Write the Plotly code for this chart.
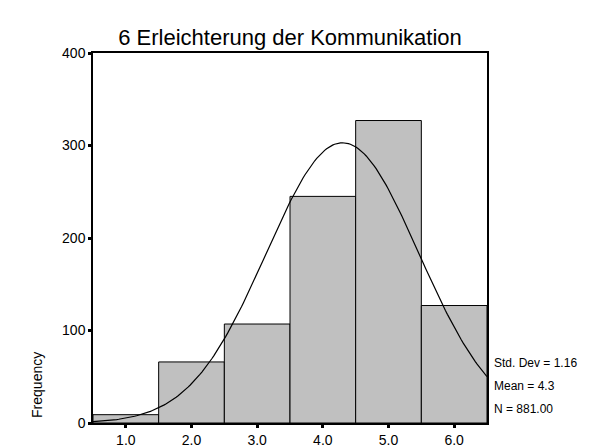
import numpy as np
import plotly.graph_objects as go

title = "6 Erleichterung der Kommunikation"
bin_centers = [1.0, 2.0, 3.0, 4.0, 5.0, 6.0]
frequencies = [9, 66, 107, 245, 327, 127]
tick_labels = ["1.0", "2.0", "3.0", "4.0", "5.0", "6.0"]
y_ticks = [0, 100, 200, 300, 400]
std_dev = 1.16
mean = 4.3
n_total = 881.00
bin_width = 1.0

FONT = "Liberation Sans, Arial, sans-serif"

fig = go.Figure()
fig.add_trace(go.Bar(
    x=bin_centers, y=frequencies, width=bin_width,
    marker=dict(color="#c0c0c0", line=dict(color="black", width=1)),
    hoverinfo="x+y",
))

# fitted normal curve derived from the displayed statistics
xs = np.linspace(0.5, 6.5, 200)
ys = n_total * bin_width / (std_dev * np.sqrt(2 * np.pi)) * np.exp(-0.5 * ((xs - mean) / std_dev) ** 2)
fig.add_trace(go.Scatter(x=xs, y=ys, mode="lines", line=dict(color="black", width=1.2),
                         hoverinfo="skip"))

fig.update_layout(
    width=600, height=440,
    margin=dict(l=85, r=121, t=45, b=25),
    paper_bgcolor="white", plot_bgcolor="white",
    showlegend=False,
    font=dict(family=FONT, color="black", size=14),
    title=dict(text=title, x=0.47, xanchor="center", y=0.934, yanchor="middle",
               font=dict(family=FONT, size=22, color="black")),
)
fig.update_xaxes(
    range=[0.5, 6.5], tickvals=bin_centers, ticktext=tick_labels,
    showline=True, linecolor="black", linewidth=1.5, mirror=True,
    ticks="outside", ticklen=3, tickwidth=3, tickcolor="black",
    showgrid=False, zeroline=False, tickfont=dict(size=14), automargin=False,
)
fig.update_yaxes(
    range=[0, 400], tickvals=y_ticks,
    showline=True, linecolor="black", linewidth=1.5, mirror=True,
    ticks="outside", ticklen=3, tickwidth=3, tickcolor="black",
    showgrid=False, zeroline=False, tickfont=dict(size=14), automargin=False,
)

stats = [f"Std. Dev = {std_dev:.2f}", f"Mean = {mean:.1f}", f"N = {n_total:.2f}"]
stat_y = [0.162, 0.1, 0.038]
for s, yy in zip(stats, stat_y):
    fig.add_annotation(text=s, xref="paper", yref="paper", x=1.0127, y=yy,
                       xanchor="left", yanchor="middle", showarrow=False,
                       font=dict(family=FONT, size=12, color="black"))

fig.add_annotation(text="Frequency", xref="paper", yref="paper", x=-0.142, y=0.103,
                   xanchor="center", yanchor="middle", textangle=-90, showarrow=False,
                   font=dict(family=FONT, size=14, color="black"))

fig.write_html("out.html")
